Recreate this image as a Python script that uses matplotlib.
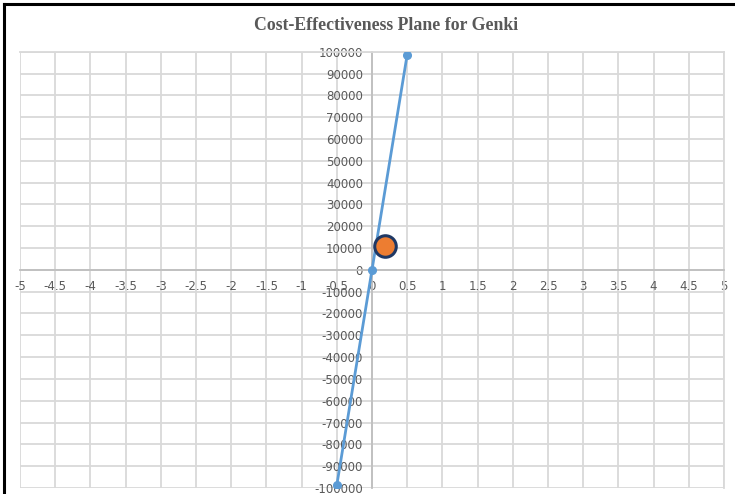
import numpy as np
import matplotlib.pyplot as plt
from matplotlib.lines import Line2D

# threshold line through the plane
line_x = [-0.5, 0, 0.5]
line_y = [-98700, 0, 98700]

# Genki point estimate (incremental effect, incremental cost)
genki_x = [0.18]
genki_y = [11100]

x_ticks = np.arange(-5, 5.01, 0.5)
y_ticks = np.arange(-100000, 100001, 10000)

W, H = 735, 494
fig = plt.figure(figsize=(W / 100, H / 100), dpi=100)
ax = fig.add_axes([20 / W, 6 / H, 704 / W, (488 - 51.7) / H])

grid_c = '#d9d9d9'
axis_c = '#bfbfbf'
text_c = '#595959'

ax.plot(line_x, line_y, color='#5b9bd5', lw=2, marker='o', ms=5.5, zorder=3)
ax.plot(genki_x, genki_y, ls='none', marker='o', ms=15.5, mfc='#ed7d31',
        mec='#1f3864', mew=2.2, zorder=4)

ax.set_xlim(-5, 5)
ax.set_ylim(-100000, 100000)
ax.set_xticks(x_ticks)
ax.set_yticks(y_ticks)
ax.set_xticklabels(['%g' % v for v in x_ticks])
ax.set_yticklabels(['%d' % v for v in y_ticks])
ax.grid(True, color=grid_c, lw=1.3, zorder=0)
ax.set_axisbelow(True)

ax.spines['left'].set_position(('data', 0))
ax.spines['bottom'].set_position(('data', 0))
for s in ['left', 'bottom']:
    ax.spines[s].set_color(axis_c)
    ax.spines[s].set_linewidth(1.3)
for s in ['right', 'top']:
    ax.spines[s].set_color(grid_c)
    ax.spines[s].set_linewidth(1.3)

ax.tick_params(axis='both', length=0, labelsize=8.5, labelcolor=text_c)
ax.tick_params(axis='x', pad=7)
ax.tick_params(axis='y', pad=6.5)

fig.text(386 / W, 1 - 25 / H, 'Cost-Effectiveness Plane for Genki',
         ha='center', va='center', fontsize=12.8, fontweight='bold',
         family='Liberation Serif', color=text_c)

# frame edges of the screenshot
fig.add_artist(Line2D([4 / W, 4 / W], [0, 1 - 4 / H], color='black', lw=2.2))
fig.add_artist(Line2D([4 / W, 1], [1 - 4 / H, 1 - 4 / H], color='black', lw=2.2))

fig.savefig('out.png', dpi=100)
